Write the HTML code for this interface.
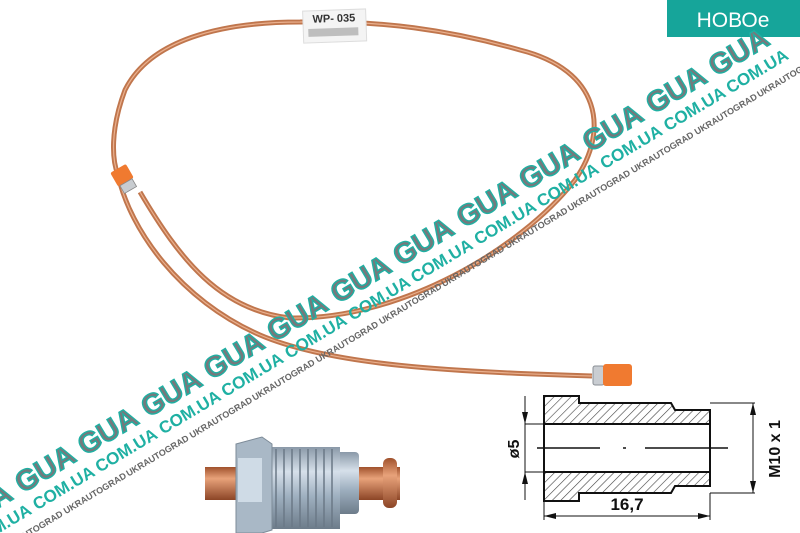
<!DOCTYPE html>
<html><head><meta charset="utf-8"><style>
html,body{margin:0;padding:0;background:#fff;width:800px;height:533px;overflow:hidden;}
body{position:relative;font-family:"Liberation Sans",sans-serif;}
svg{position:absolute;left:0;top:0;overflow:hidden;}
</style></head><body>
<svg width="800" height="533" viewBox="0 0 800 533">
<defs>
<linearGradient id="thr" x1="0" y1="0" x2="0" y2="1">
<stop offset="0" stop-color="#8a99a8"/><stop offset="0.3" stop-color="#d6e0ea"/><stop offset="0.6" stop-color="#9fb0c0"/><stop offset="1" stop-color="#6d7c8a"/></linearGradient>
<linearGradient id="cu" x1="0" y1="0" x2="0" y2="1">
<stop offset="0" stop-color="#a0522d"/><stop offset="0.35" stop-color="#e8a27a"/><stop offset="1" stop-color="#8c4526"/></linearGradient>
<pattern id="hatch" width="6" height="6" patternUnits="userSpaceOnUse" patternTransform="rotate(45)">
<rect width="6" height="6" fill="#fff"/><line x1="0" y1="0" x2="0" y2="6" stroke="#444" stroke-width="1.2"/></pattern>
</defs>
<!-- tubes -->
<path d="M140,192 C180,260 220,310 290,318 C400,320 520,250 575,180 C610,130 600,70 520,50 C450,30 380,20 300,22 C220,22 150,40 125,90 C110,130 112,160 118,175 C130,230 180,300 260,335 C330,365 450,372 592,376" fill="none" stroke="#c0764d" stroke-width="5"/>
<path d="M140,192 C180,260 220,310 290,318 C400,320 520,250 575,180 C610,130 600,70 520,50 C450,30 380,20 300,22 C220,22 150,40 125,90 C110,130 112,160 118,175 C130,230 180,300 260,335 C330,365 450,372 592,376" fill="none" stroke="#eab08e" stroke-width="1.2"/>
<!-- left fitting -->
<g transform="translate(123,177) rotate(60)">
<rect x="-10" y="-9" width="16" height="18" rx="2" fill="#f07a30"/>
<rect x="6" y="-7" width="9" height="14" fill="#c8ccd0" stroke="#888" stroke-width="0.8"/>
</g>
<!-- right fitting -->
<rect x="593" y="366" width="11" height="19" rx="2" fill="#c9cdd2" stroke="#8a8f95"/>
<rect x="603" y="364" width="29" height="22" rx="3" fill="#f07a30"/>
<!-- label -->
<g transform="rotate(-2 335 22)">
<rect x="303" y="10" width="63" height="32" fill="#f4f4f4" stroke="#ddd"/>
<text x="334" y="22" font-size="11" font-weight="bold" text-anchor="middle" fill="#333">WP- 035</text>
<rect x="308" y="28" width="50" height="8" fill="#999" opacity="0.6"/>
</g>
<!-- badge -->
<rect x="667" y="0" width="133" height="37" fill="#16a59a"/>
<text x="733" y="27" font-size="21" fill="#fff" text-anchor="middle">НОВОе</text>
<!-- watermark -->
<g transform="translate(297,317) rotate(-31)" font-weight="bold">
<g id="u">
<text x="0" y="10" font-size="29" fill="#75797c" stroke="#1fb0a3" stroke-width="1.4" text-anchor="middle">GUA</text>
<text x="6" y="32" font-size="17" fill="#1fb0a3" text-anchor="middle">COM.UA</text>
<text x="30" y="50" font-size="9" fill="#666" text-anchor="middle">UKRAUTOGRAD</text>
</g>
<use href="#u" x="-368"/><use href="#u" x="-294"/><use href="#u" x="-221"/><use href="#u" x="-147"/><use href="#u" x="-74"/>
<use href="#u" x="74"/><use href="#u" x="147"/><use href="#u" x="221"/><use href="#u" x="294"/><use href="#u" x="368"/><use href="#u" x="442"/><use href="#u" x="515"/>
</g>
<!-- bottom fitting photo -->
<rect x="205" y="467" width="195" height="33" fill="url(#cu)"/>
<rect x="383" y="458" width="14" height="50" rx="6" fill="url(#cu)"/>
<rect x="335" y="452" width="24" height="62" rx="4" fill="url(#thr)"/>
<rect x="268" y="447" width="72" height="82" fill="url(#thr)"/>
<g stroke="#6a7886" stroke-width="1.5">
<line x1="276" y1="449" x2="276" y2="527"/><line x1="284" y1="449" x2="284" y2="527"/><line x1="292" y1="449" x2="292" y2="527"/><line x1="300" y1="449" x2="300" y2="527"/><line x1="308" y1="449" x2="308" y2="527"/><line x1="316" y1="449" x2="316" y2="527"/><line x1="324" y1="449" x2="324" y2="527"/><line x1="332" y1="449" x2="332" y2="527"/>
</g>
<path d="M236,444 L262,437 L272,444 L272,530 L262,533 L236,533 Z" fill="#a9b8c6" stroke="#7d8b98"/>
<rect x="238" y="458" width="24" height="44" fill="#cfdbe6"/>
<!-- technical drawing -->
<g stroke="#111" stroke-width="2" fill="none">
<path d="M544,396 L579,396 L579,403 L671,403 L675,410 L710,410 L710,424 L544,424 Z" fill="url(#hatch)"/>
<path d="M544,472 L710,472 L710,486 L675,486 L671,493 L579,493 L579,501 L544,501 Z" fill="url(#hatch)"/>
<line x1="544" y1="424" x2="544" y2="472"/>
<line x1="710" y1="424" x2="710" y2="472"/>
<line x1="537" y1="448" x2="600" y2="448" stroke-width="1.5"/>
<line x1="623" y1="448" x2="626" y2="448" stroke-width="1.5"/>
<line x1="645" y1="448" x2="728" y2="448" stroke-width="1.5"/>
<line x1="525" y1="396" x2="525" y2="500" stroke-width="1"/>
<line x1="525" y1="424" x2="544" y2="424" stroke-width="1"/>
<line x1="525" y1="472" x2="544" y2="472" stroke-width="1"/>
<line x1="710" y1="403" x2="755" y2="403" stroke-width="1"/>
<line x1="710" y1="493" x2="755" y2="493" stroke-width="1"/>
<line x1="753" y1="403" x2="753" y2="493" stroke-width="1"/>
<line x1="544" y1="501" x2="544" y2="520" stroke-width="1"/>
<line x1="710" y1="493" x2="710" y2="520" stroke-width="1"/>
<line x1="544" y1="516" x2="710" y2="516" stroke-width="1"/>
</g>
<g fill="#111">
<path d="M525,424 l-3,-12 l6,0 Z"/><path d="M525,472 l-3,12 l6,0 Z"/>
<path d="M753,403 l-3,12 l6,0 Z"/><path d="M753,493 l-3,-12 l6,0 Z"/>
<path d="M544,516 l12,-3 l0,6 Z"/><path d="M710,516 l-12,-3 l0,6 Z"/>
</g>
<text x="627" y="510" font-size="17" font-weight="bold" text-anchor="middle" fill="#111">16,7</text>
<text transform="translate(519,449) rotate(-90)" font-size="16" font-weight="bold" text-anchor="middle" fill="#111">ø5</text>
<text transform="translate(780,449) rotate(-90)" font-size="16" font-weight="bold" text-anchor="middle" fill="#111">M10 x 1</text>
</svg>
</body></html>
